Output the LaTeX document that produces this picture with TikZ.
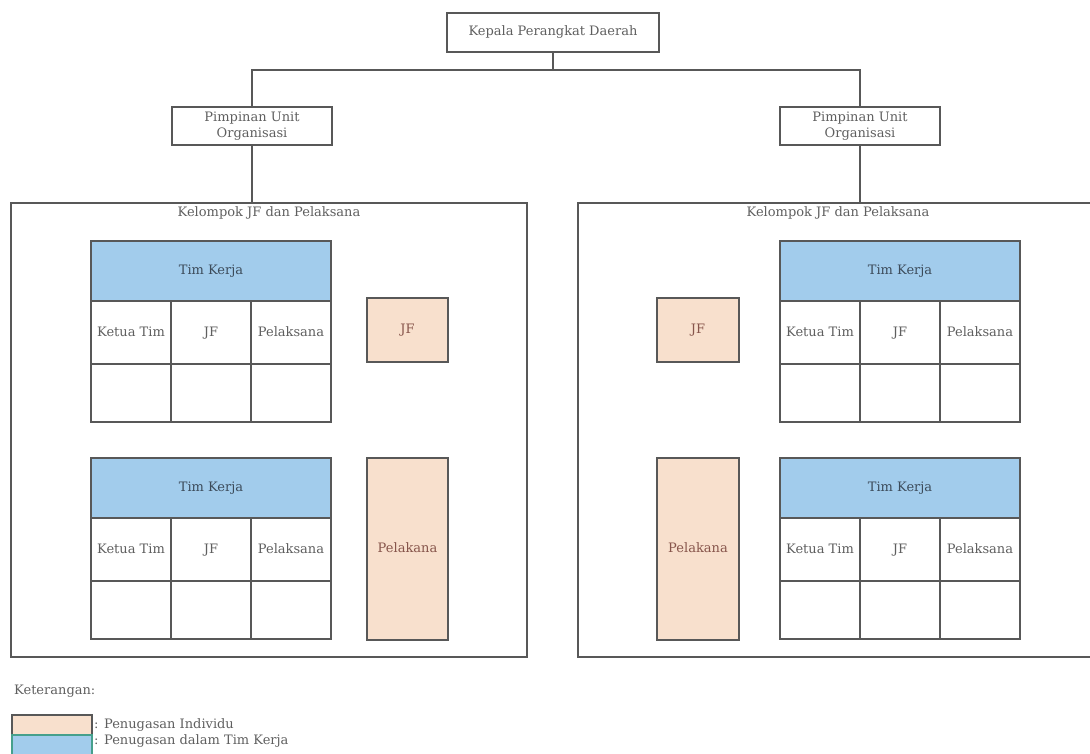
\documentclass[tikz,border=0pt]{standalone}
\usepackage{fontspec}
\setmainfont{DejaVu Serif}
\usetikzlibrary{positioning}

\definecolor{linegray}{RGB}{88,88,88}
\definecolor{txtgray}{RGB}{95,95,95}
\definecolor{timblue}{RGB}{162,204,236}
\definecolor{timtxt}{RGB}{60,75,90}
\definecolor{indpeach}{RGB}{248,224,205}
\definecolor{indtxt}{RGB}{135,85,75}
\definecolor{swatchteal}{RGB}{70,160,140}

\begin{document}
\begin{tikzpicture}[x=1pt,y=-1pt,
	every node/.style={font=\fontsize{13}{15.5}\selectfont, text=txtgray},
	unit/.style={rectangle, draw=linegray, line width=1.6pt, outer sep=0pt, inner sep=2pt, align=center},
	group/.style={rectangle, draw=linegray, line width=1.6pt, outer sep=0pt},
	timhead/.style={unit, fill=timblue, text=timtxt, minimum width=240pt, minimum height=60pt},
	cell/.style={unit, fill=white, minimum width=80pt, minimum height=63pt, text height=9.5pt, text depth=2.5pt},
	blank/.style={unit, fill=white, minimum width=80pt, minimum height=58pt},
	indiv/.style={unit, fill=indpeach, text=indtxt, minimum width=81pt, text height=9.5pt, text depth=2.5pt},
	swatch/.style={rectangle, line width=1.6pt, outer sep=0pt, minimum width=80pt},
	conn/.style={draw=linegray, line width=1.6pt}]

	\useasboundingbox (0,0) rectangle (1090,753);

	% atas
	\node[unit, minimum width=212pt, minimum height=39pt] (kepala) at (553,32.5) {Kepala Perangkat Daerah};
	\node[unit, minimum width=160pt, minimum height=38pt] (pimpinanL) at (252,126) {Pimpinan Unit\\Organisasi};
	\node[unit, minimum width=160pt, minimum height=38pt] (pimpinanR) at (860,126) {Pimpinan Unit\\Organisasi};

	% kelompok
	\node[group, minimum width=516pt, minimum height=454pt] (kelompokL) at (269,430) {};
	\node[group, minimum width=520pt, minimum height=454pt] (kelompokR) at (838,430) {};
	\node[below=0pt of kelompokL.north] (labelL) {Kelompok JF dan Pelaksana};
	\node[below=0pt of kelompokR.north] (labelR) {Kelompok JF dan Pelaksana};

	\draw[conn] (kepala.south) -- ++(0,18) -| (pimpinanL.north);
	\draw[conn] (kepala.south) -- ++(0,18) -| (pimpinanR.north);
	\draw[conn] (pimpinanL.south) -- (pimpinanL.south |- kelompokL.north);
	\draw[conn] (pimpinanR.south) -- (pimpinanR.south |- kelompokR.north);

	% tim kerja
	\foreach \t/\cx/\ty in {L1/211/241, L2/211/458, R1/900/241, R2/900/458} {
		\node[timhead] (tim\t) at (\cx,\ty+30) {Tim Kerja};
		\node[cell, anchor=north west] (ketua\t) at (tim\t.south west) {Ketua Tim};
		\node[cell, right=0pt of ketua\t] (jf\t) {JF};
		\node[cell, right=0pt of jf\t] (pelaksana\t) {Pelaksana};
		\node[blank, below=0pt of ketua\t] (kosongA\t) {};
		\node[blank, below=0pt of jf\t] (kosongB\t) {};
		\node[blank, below=0pt of pelaksana\t] (kosongC\t) {};
	}

	% penugasan individu
	\node[indiv, minimum height=64pt] (jfL) at (407.5,330) {JF};
	\node[indiv, minimum height=182pt] (pelakanaL) at (407.5,549) {Pelakana};
	\node[indiv, minimum width=82pt, minimum height=64pt] (jfR) at (698,330) {JF};
	\node[indiv, minimum width=82pt, minimum height=182pt] (pelakanaR) at (698,549) {Pelakana};

	% keterangan
	\node[anchor=west, inner sep=0pt] (keterangan) at (14,691) {Keterangan:};
	\node[swatch, draw=linegray, fill=indpeach, minimum height=20pt] (lgInd) at (52,725) {};
	\node[swatch, draw=swatchteal, fill=timblue, minimum height=24pt] (lgTim) at (52,747) {};
	\node[anchor=west, inner sep=0pt] (lgIndTxt) at (94,725) {: Penugasan Individu};
	\node[anchor=west, inner sep=0pt] (lgTimTxt) at (94,741) {: Penugasan dalam Tim Kerja};

\end{tikzpicture}
\end{document}
